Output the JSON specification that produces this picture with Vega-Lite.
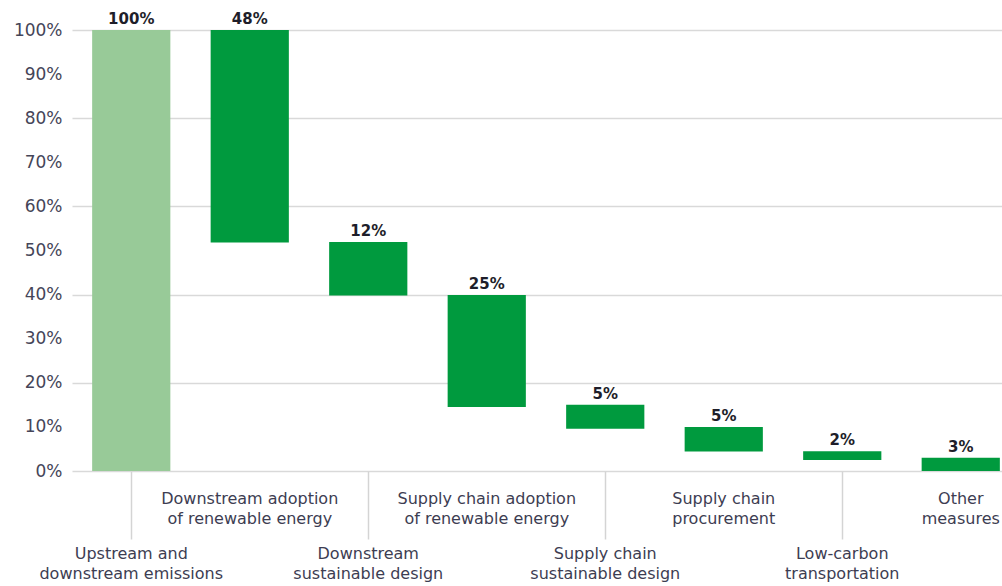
{
  "$schema": "https://vega.github.io/schema/vega-lite/v6.json",
  "width": 930,
  "height": 441,
  "autosize": {"type": "none"},
  "padding": {"left": 72, "top": 30, "right": 0, "bottom": 115},
  "background": "white",
  "config": {"view": {"stroke": null}, "font": "DejaVu Sans"},
  "data": {
    "values": [
      {"category": "Upstream and|downstream emissions", "hi": 100, "lo": 0, "change": "100%", "kind": "total"},
      {"category": "Downstream adoption|of renewable energy", "hi": 100, "lo": 51.8, "change": "48%", "kind": "step"},
      {"category": "Downstream|sustainable design", "hi": 51.9, "lo": 39.8, "change": "12%", "kind": "step"},
      {"category": "Supply chain adoption|of renewable energy", "hi": 39.9, "lo": 14.5, "change": "25%", "kind": "step"},
      {"category": "Supply chain|sustainable design", "hi": 15, "lo": 9.6, "change": "5%", "kind": "step"},
      {"category": "Supply chain|procurement", "hi": 10, "lo": 4.4, "change": "5%", "kind": "step"},
      {"category": "Low-carbon|transportation", "hi": 4.5, "lo": 2.5, "change": "2%", "kind": "step"},
      {"category": "Other|measures", "hi": 3, "lo": 0, "change": "3%", "kind": "step"}
    ]
  },
  "encoding": {
    "x": {
      "field": "category",
      "type": "nominal",
      "sort": null,
      "scale": {"range": [0, 948], "paddingInner": 0.34, "paddingOuter": 0.17},
      "axis": {
        "title": null,
        "domain": false,
        "labelExpr": "split(datum.value, '|')",
        "labelAngle": 0,
        "labelFont": "DejaVu Sans",
        "labelFontSize": 16,
        "labelColor": "#3d3d52",
        "labelLineHeight": 20,
        "labelBaseline": "top",
        "labelOverlap": false,
        "labelLimit": 0,
        "labelBound": false,
        "labelFlush": false,
        "tickSize": 68,
        "tickWidth": 1.5,
        "tickColor": "#d4d4d4",
        "tickOpacity": {"condition": {"test": "round(datum.index*7)%2===0", "value": 1}, "value": 0},
        "labelPadding": {"condition": {"test": "round(datum.index*7)%2===0", "value": 6}, "value": -49}
      }
    }
  },
  "layer": [
    {
      "mark": {"type": "bar"},
      "encoding": {
        "y": {
          "field": "hi",
          "type": "quantitative",
          "scale": {"domain": [0, 100], "nice": false},
          "axis": {
            "title": null,
            "orient": "left",
            "values": [0, 20, 40, 60, 80, 100],
            "labels": false,
            "domain": false,
            "ticks": false,
            "grid": true,
            "gridWidth": 1.5,
            "gridColor": "#d9d9d9"
          }
        },
        "y2": {"field": "lo"},
        "color": {
          "field": "kind",
          "type": "nominal",
          "scale": {"domain": ["total", "step"], "range": ["#98ca98", "#009a3e"]},
          "legend": null
        }
      }
    },
    {
      "mark": {"type": "text", "baseline": "alphabetic", "dy": -6, "font": "DejaVu Sans", "fontWeight": "bold", "fontSize": 15, "color": "#1e1e2a"},
      "encoding": {
        "y": {
          "field": "hi",
          "type": "quantitative",
          "axis": {
            "title": null,
            "orient": "left",
            "values": [0, 10, 20, 30, 40, 50, 60, 70, 80, 90, 100],
            "labelExpr": "datum.value + '%'",
            "domain": false,
            "ticks": false,
            "grid": false,
            "labelPadding": 10,
            "labelFont": "DejaVu Sans",
            "labelFontSize": 17,
            "labelColor": "#454558"
          }
        },
        "text": {"field": "change"}
      }
    }
  ],
  "resolve": {"axis": {"y": "independent"}}
}
